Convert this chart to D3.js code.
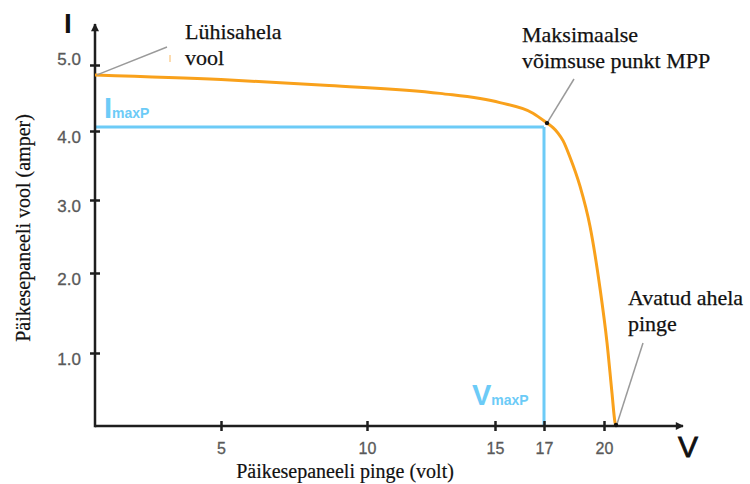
<!DOCTYPE html>
<html>
<head>
<meta charset="utf-8">
<script src="https://cdn.jsdelivr.net/npm/d3@7"></script>
<style>
  html, body { margin: 0; padding: 0; background: #fff; }
  svg { display: block; }
</style>
</head>
<body>
<svg id="chart" width="750" height="484"></svg>
<script>
// ---- data ----
const voltage = [0, 5, 8.7, 12.85, 15.2, 16.55, 17.15, 17.45, 17.7, 17.95, 18.3, 18.8, 19.3, 19.8, 20.15, 20.4, 20.55, 20.6];
const current = [4.85, 4.78, 4.69, 4.57, 4.43, 4.27, 4.12, 4.05, 3.97, 3.86, 3.62, 3.2, 2.64, 1.81, 1.13, 0.45, 0.05, 0];
const xTicks = [5, 10, 15, 17, 20];
const yTicks = [1, 2, 3, 4, 5];
const yTickLabels = ["1.0", "2.0", "3.0", "4.0", "5.0"];
const mppVoltage = 17;
const mppCurrent = 4.06;
const mppPoint = [17.15, 4.12];
const vocPoint = [20.6, 0];
const iscPoint = [0, 4.85];

// ---- scales (the reference axis is drawn non-uniformly, so piecewise) ----
const x = d3.scaleLinear().domain([0, 5, 10, 15, 17, 20, 22]).range([95, 221, 367, 495, 544, 604, 644]);
const y = d3.scaleLinear().domain([0, 1, 2, 3, 4, 5]).range([426, 353, 273, 200, 131, 65]);

const svg = d3.select("#chart");
const orange = "#f9a11b";
const blue = "#6ccbf7";
const axisCol = "#1e1e1e";
const serif = "'Liberation Serif', 'Times New Roman', serif";
const sans = "'Liberation Sans', Arial, sans-serif";

const defs = svg.append("defs");
defs.append("marker").attr("id", "arrow").attr("viewBox", "0 0 10 10")
  .attr("refX", 9).attr("refY", 5).attr("markerWidth", 10).attr("markerHeight", 8)
  .attr("markerUnits", "userSpaceOnUse").attr("orient", "auto")
  .append("path").attr("d", "M0,0 L10,5 L0,10 Z").attr("fill", axisCol);

// ---- MPP blue guides ----
svg.append("line").attr("x1", x(0)).attr("x2", x(mppVoltage))
  .attr("y1", y(mppCurrent)).attr("y2", y(mppCurrent))
  .attr("stroke", blue).attr("stroke-width", 3);
svg.append("line").attr("x1", x(mppVoltage)).attr("x2", x(mppVoltage))
  .attr("y1", y(mppCurrent)).attr("y2", y(0))
  .attr("stroke", blue).attr("stroke-width", 3);

// ---- axes ----
const xAxis = svg.append("g").attr("transform", `translate(0,${y(0)})`)
  .call(d3.axisBottom(x).tickValues(xTicks).tickSize(5).tickFormat(d3.format("d")));
xAxis.select(".domain").remove();
xAxis.selectAll(".tick line").attr("y1", -5).attr("y2", 5).attr("stroke", axisCol).attr("stroke-width", 2.5);
xAxis.selectAll(".tick text").attr("y", 28).attr("dy", 0)
  .attr("font-family", sans).attr("font-size", 16).attr("fill", "#595959")
  .attr("stroke", "#595959").attr("stroke-width", 0.3);

const yAxis = svg.append("g").attr("transform", `translate(${x(0)},0)`)
  .call(d3.axisLeft(y).tickValues(yTicks).tickSize(5).tickFormat((d, i) => yTickLabels[i]));
yAxis.select(".domain").remove();
yAxis.selectAll(".tick line").attr("x1", -5).attr("x2", 5).attr("stroke", axisCol).attr("stroke-width", 2.5);
yAxis.selectAll(".tick text").attr("x", -14).attr("dy", d => d === 5 ? -1 : 11)
  .attr("font-family", sans).attr("font-size", 17).attr("fill", "#595959")
  .attr("stroke", "#595959").attr("stroke-width", 0.3);

svg.append("line").attr("x1", x(0)).attr("x2", 683).attr("y1", y(0)).attr("y2", y(0))
  .attr("stroke", axisCol).attr("stroke-width", 2.5).attr("marker-end", "url(#arrow)");
svg.append("line").attr("x1", x(0)).attr("x2", x(0)).attr("y1", y(0) + 1.2).attr("y2", 24)
  .attr("stroke", axisCol).attr("stroke-width", 2.5).attr("marker-end", "url(#arrow)");

// ---- IV curve ----
const pts = voltage.map((v, i) => [v, current[i]]);
svg.append("path").datum(pts)
  .attr("d", d3.line().x(d => x(d[0])).y(d => y(d[1])).curve(d3.curveMonotoneX))
  .attr("fill", "none").attr("stroke", orange).attr("stroke-width", 3);

// ---- leader lines & dots ----
const leader = (x1, y1, x2, y2) => svg.append("line")
  .attr("x1", x1).attr("y1", y1).attr("x2", x2).attr("y2", y2)
  .attr("stroke", "#9a9a9a").attr("stroke-width", 1.5);
leader(x(iscPoint[0]) + 2, y(iscPoint[1]), 167, 47);
leader(x(mppPoint[0]), y(mppPoint[1]), 574, 79);
leader(x(vocPoint[0]) + 1, y(vocPoint[1]) - 2, 643, 343);
svg.append("line").attr("x1", 170).attr("x2", 170).attr("y1", 55).attr("y2", 62)
  .attr("stroke", "#f9b860").attr("stroke-width", 1);
[mppPoint, vocPoint].forEach(p => svg.append("circle")
  .attr("cx", x(p[0])).attr("cy", y(p[1]) - (p[1] === 0 ? 1 : 0)).attr("r", 2.2).attr("fill", "#111"));

// ---- annotation texts ----
function twoLines(xp, yp, l1, l2) {
  const t = svg.append("text").attr("font-family", serif).attr("font-size", 22).attr("fill", "#111")
    .attr("stroke", "#111").attr("stroke-width", 0.25);
  t.append("tspan").attr("x", xp).attr("y", yp).text(l1);
  t.append("tspan").attr("x", xp).attr("y", yp + 26).text(l2);
}
twoLines(185, 39, "Lühisahela", "vool");
twoLines(522, 42, "Maksimaalse", "võimsuse punkt MPP");
twoLines(628, 305, "Avatud ahela", "pinge");

// MPP labels
function mLabel(xp, yp, big) {
  const t = svg.append("text").attr("x", xp).attr("y", yp).attr("font-family", sans)
    .attr("font-weight", "bold").attr("fill", blue);
  t.append("tspan").attr("font-size", 29).text(big);
  t.append("tspan").attr("font-size", 14).text("maxP");
}
mLabel(104, 118, "I");
mLabel(472, 405, "V");

// axis letters
svg.append("text").attr("x", 64).attr("y", 33).attr("font-family", sans).attr("font-size", 28)
  .attr("font-weight", "bold").attr("fill", "#111").text("I");
svg.append("text").attr("x", 678).attr("y", 457).attr("font-family", sans).attr("font-size", 30)
  .attr("fill", "#111").attr("stroke", "#111").attr("stroke-width", 0.8).text("V");

// axis titles
svg.append("text").attr("x", 345).attr("y", 478).attr("text-anchor", "middle")
  .attr("font-family", serif).attr("font-size", 20).attr("fill", "#111")
  .attr("stroke", "#111").attr("stroke-width", 0.2)
  .text("Päikesepaneeli pinge (volt)");
svg.append("text").attr("transform", "translate(30,228) rotate(-90)").attr("text-anchor", "middle")
  .attr("font-family", serif).attr("font-size", 20).attr("fill", "#111")
  .attr("stroke", "#111").attr("stroke-width", 0.2)
  .text("Päikesepaneeli vool (amper)");
</script>
</body>
</html>
